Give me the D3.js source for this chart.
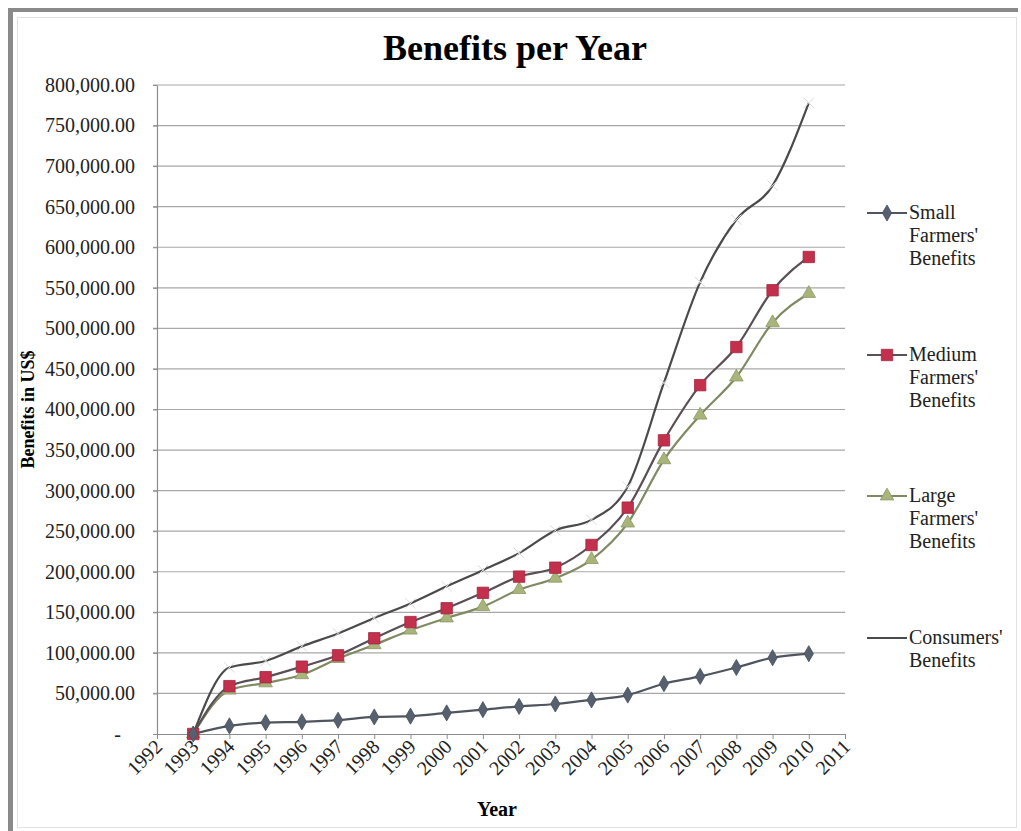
<!DOCTYPE html>
<html>
<head>
<meta charset="utf-8">
<script src="https://cdn.jsdelivr.net/npm/d3@7"></script>
<style>
  body { margin: 0; background: #fff; }
  svg { display: block; font-family: "Liberation Serif", "Times New Roman", serif; }
</style>
</head>
<body>
<script>
// tick labels on the x axis
const axisYears = ["1992", "1993", "1994", "1995", "1996", "1997", "1998", "1999", "2000",
  "2001", "2002", "2003", "2004", "2005", "2006", "2007", "2008", "2009", "2010", "2011"];

// years that carry data
const dataYears = ["1993", "1994", "1995", "1996", "1997", "1998", "1999", "2000", "2001",
  "2002", "2003", "2004", "2005", "2006", "2007", "2008", "2009", "2010"];

const smallFarmers = [0, 10000, 14000, 15000, 17000, 21000, 22000, 26000, 30000, 34000,
  37000, 42000, 48000, 62000, 71000, 82000, 94000, 99000];
const mediumFarmers = [0, 59000, 70000, 83000, 97000, 118000, 138000, 155000, 174000, 194000,
  205000, 233000, 279000, 362000, 430000, 477000, 547000, 588000];
const largeFarmers = [0, 54000, 63000, 73000, 93000, 110000, 128000, 143000, 157000, 178000,
  192000, 215000, 260000, 338000, 393000, 440000, 507000, 543000];
const consumers = [0, 82000, 90000, 108000, 124000, 143000, 161000, 182000, 202000, 223000,
  251000, 264000, 305000, 433000, 557000, 634000, 676000, 778000];

const yTicks = [0, 50000, 100000, 150000, 200000, 250000, 300000, 350000, 400000,
  450000, 500000, 550000, 600000, 650000, 700000, 750000, 800000];

const width = 1021, height = 831;
const plot = { left: 157, right: 845, top: 85, bottom: 734 };

const svg = d3.select("body").append("svg")
  .attr("width", width)
  .attr("height", height);

// frame round the picture
svg.append("rect").attr("x", 17.5).attr("y", 17.5).attr("width", 999).attr("height", 810)
  .attr("fill", "none").attr("stroke", "#e2e2e2").attr("stroke-width", 1);
svg.append("rect").attr("x", 8).attr("y", 8).attr("width", 1010).attr("height", 4).attr("fill", "#8a8a8a");
svg.append("rect").attr("x", 8).attr("y", 8).attr("width", 5).attr("height", 823).attr("fill", "#8a8a8a");

const x = d3.scalePoint().domain(axisYears).range([plot.left, plot.right]);
const y = d3.scaleLinear().domain([0, 800000]).range([plot.bottom, plot.top]);

// gridlines
svg.append("g")
  .selectAll("line")
  .data(yTicks.filter(d => d > 0))
  .join("line")
  .attr("x1", plot.left - 4).attr("x2", plot.right)
  .attr("y1", d => y(d)).attr("y2", d => y(d))
  .attr("stroke", "#a8a8a8").attr("stroke-width", 1.2);

// y axis
const fmt = d3.format(",.2f");
const yAxis = svg.append("g")
  .attr("transform", `translate(${plot.left},0)`)
  .call(d3.axisLeft(y).tickValues(yTicks).tickSize(4).tickSizeOuter(0)
    .tickFormat(d => d === 0 ? "-" : fmt(d)));
yAxis.select(".domain").attr("stroke", "#8c8c8c").attr("stroke-width", 1.2);
yAxis.selectAll(".tick line").attr("stroke", "#8c8c8c");
yAxis.selectAll(".tick text")
  .attr("x", -22)
  .attr("font-size", 20)
  .attr("font-family", "Liberation Serif")
  .attr("fill", "#222");
yAxis.selectAll(".tick text").filter(d => d === 0).attr("x", -36);

// x axis
const xAxis = svg.append("g")
  .attr("transform", `translate(0,${plot.bottom})`)
  .call(d3.axisBottom(x).tickSize(5).tickSizeOuter(0));
xAxis.select(".domain").attr("stroke", "#8c8c8c").attr("stroke-width", 1.2);
xAxis.selectAll(".tick line").attr("stroke", "#8c8c8c");
xAxis.selectAll(".tick text")
  .attr("font-size", 20)
  .attr("font-family", "Liberation Serif")
  .attr("fill", "#222")
  .attr("text-anchor", "end")
  .attr("dy", 0)
  .attr("transform", "translate(6,14) rotate(-45)")
  .attr("x", 0).attr("y", 0);

// titles
svg.append("text")
  .attr("x", 515).attr("y", 60)
  .attr("text-anchor", "middle")
  .attr("font-size", 36).attr("font-weight", "bold")
  .text("Benefits per Year");

svg.append("text")
  .attr("x", 497).attr("y", 816)
  .attr("text-anchor", "middle")
  .attr("font-size", 20).attr("font-weight", "bold")
  .text("Year");

svg.append("text")
  .attr("transform", `translate(34,${(plot.top + plot.bottom) / 2}) rotate(-90)`)
  .attr("text-anchor", "middle")
  .attr("font-size", 18).attr("font-weight", "bold")
  .text("Benefits in US$");

// series
const series = [
  { name: ["Small", "Farmers'", "Benefits"], values: smallFarmers, line: "#4f555e",
    marker: "diamond", fill: "#56606e", size: 75, legendY: 213 },
  { name: ["Medium", "Farmers'", "Benefits"], values: mediumFarmers, line: "#5a4f55",
    marker: "square", fill: "#c2304c", size: 130, legendY: 355 },
  { name: ["Large", "Farmers'", "Benefits"], values: largeFarmers, line: "#7f8a62",
    marker: "triangle", fill: "#a9b47a", size: 80, legendY: 496 },
  { name: ["Consumers'", "Benefits"], values: consumers, line: "#4a4a4a",
    marker: "x", fill: "#dadada", size: 70, legendY: 638 }
];

const symbolType = {
  diamond: d3.symbolDiamond,
  square: d3.symbolSquare,
  triangle: d3.symbolTriangle,
  x: d3.symbolTimes
};

const lineGen = d3.line()
  .x((d, i) => x(dataYears[i]))
  .y(d => y(d))
  .curve(d3.curveMonotoneX);

const seriesG = svg.append("g");

// consumers drawn first so the farmers lines sit on top
[3, 2, 1, 0].forEach(k => {
  const s = series[k];
  seriesG.append("path")
    .datum(s.values)
    .attr("fill", "none")
    .attr("stroke", s.line)
    .attr("stroke-width", 2.2)
    .attr("d", lineGen);
});

[3, 2, 1, 0].forEach(k => {
  const s = series[k];
  const sym = d3.symbol().type(symbolType[s.marker]).size(s.size);
  seriesG.append("g")
    .selectAll("path")
    .data(s.values)
    .join("path")
    .attr("transform", (d, i) => `translate(${x(dataYears[i])},${y(d)})`)
    .attr("d", sym)
    .attr("fill", s.marker === "x" ? "none" : s.fill)
    .attr("stroke", s.marker === "x" ? s.fill : d3.color(s.fill).darker(0.5))
    .attr("stroke-width", s.marker === "x" ? 1 : 0.8);
});

// legend
const legend = svg.append("g");
series.forEach(s => {
  const g = legend.append("g").attr("transform", `translate(0,${s.legendY})`);
  g.append("line")
    .attr("x1", 867).attr("x2", 907)
    .attr("stroke", s.line).attr("stroke-width", 2.2);
  if (s.marker !== "x") {
    g.append("path")
      .attr("transform", "translate(887,0)")
      .attr("d", d3.symbol().type(symbolType[s.marker]).size(s.size)())
      .attr("fill", s.fill)
      .attr("stroke", d3.color(s.fill).darker(0.5))
      .attr("stroke-width", 0.8);
  }
  g.selectAll("text")
    .data(s.name)
    .join("text")
    .attr("x", 909)
    .attr("y", (d, i) => i * 23 + 6)
    .attr("font-size", 20)
    .attr("fill", "#222")
    .text(d => d);
});
</script>
</body>
</html>
